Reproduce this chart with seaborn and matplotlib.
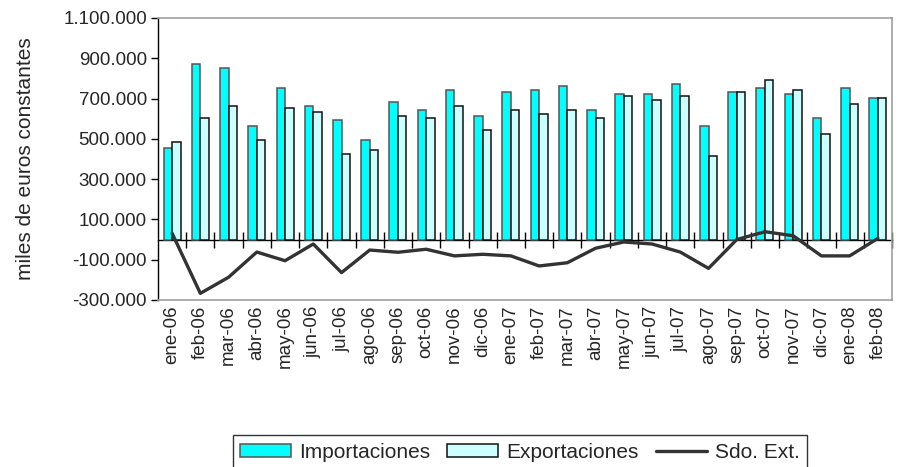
import numpy as np
import pandas as pd
import matplotlib
matplotlib.use("Agg")
import matplotlib.pyplot as plt
from matplotlib.patches import Patch
from matplotlib.lines import Line2D
from matplotlib.ticker import FuncFormatter, FixedLocator
import seaborn as sns

months = ["ene-06", "feb-06", "mar-06", "abr-06", "may-06", "jun-06", "jul-06",
          "ago-06", "sep-06", "oct-06", "nov-06", "dic-06", "ene-07", "feb-07",
          "mar-07", "abr-07", "may-07", "jun-07", "jul-07", "ago-07", "sep-07",
          "oct-07", "nov-07", "dic-07", "ene-08", "feb-08"]
importaciones = [453, 872, 850, 562, 751, 662, 592, 493, 682, 642, 741, 612, 731,
                 741, 761, 642, 721, 721, 771, 562, 731, 751, 721, 602, 751, 702]
exportaciones = [483, 602, 662, 493, 652, 632, 423, 443, 612, 602, 662, 543, 642,
                 622, 642, 602, 711, 692, 711, 413, 731, 791, 741, 523, 672, 702]
saldo = [31, -267, -187, -62, -105, -22, -164, -52, -63, -48, -81, -73, -81,
         -131, -115, -43, -12, -22, -62, -143, 0, 39, 19, -81, -81, 6]
yticks = [-300000, -100000, 100000, 300000, 500000, 700000, 900000, 1100000]
ylabel = "miles de euros constantes"
series_names = ["Importaciones", "Exportaciones", "Sdo. Ext."]

sns.set_style("white")
plt.rcParams["font.family"] = ["Liberation Sans", "DejaVu Sans"]
plt.rcParams["font.size"] = 13.5

df = pd.DataFrame({
    "mes": months * 2,
    "valor": [v * 1000 for v in importaciones] + [v * 1000 for v in exportaciones],
    "serie": [series_names[0]] * len(months) + [series_names[1]] * len(months),
})

fig = plt.figure(figsize=(8.98, 4.67), dpi=100)
ax = fig.add_axes([158 / 898, 1 - 300 / 467, (892 - 158) / 898, (300 - 18) / 467])

colors = {"Importaciones": "#00FFFF", "Exportaciones": "#CCFFFF"}
edges = {"Importaciones": "#555555", "Exportaciones": "#111111"}
sns.barplot(data=df, x="mes", y="valor", hue="serie", order=months,
            hue_order=series_names[:2], palette=colors, width=0.6,
            saturation=1, ax=ax, legend=False)
for cont, name in zip(ax.containers, series_names[:2]):
    for p in cont:
        p.set_edgecolor(edges[name])
        p.set_linewidth(1.1)

sns.lineplot(x=np.arange(len(months)), y=np.array(saldo) * 1000, color="#333333",
             linewidth=2.4, ax=ax, legend=False)

ymin, ymax = yticks[0], yticks[-1]
ax.set_ylim(ymin, ymax)
ax.set_xlim(-0.5, len(months) - 0.5)
ax.set_yticks(yticks)
ax.yaxis.set_major_formatter(FuncFormatter(lambda v, p: f"{int(v):,}".replace(",", ".")))
ax.set_xticks(range(len(months)))
ax.set_xticklabels(months, rotation=90)
ax.tick_params(axis="x", length=0, pad=4, labelsize=13.5)
ax.tick_params(axis="y", length=5, width=1, direction="out", color="black",
               labelsize=13.5, pad=3, left=True)
ax.set_xlabel("")
ax.set_ylabel(ylabel, fontsize=15, labelpad=20)

for s in ["top", "right", "bottom"]:
    ax.spines[s].set_color("#A0A0A0")
    ax.spines[s].set_linewidth(1.2)
ax.spines["left"].set_color("black")
ax.spines["left"].set_linewidth(1.0)

# zero axis with category-boundary ticks
zero_frac = (0 - ymin) / (ymax - ymin)
sec = ax.secondary_xaxis(zero_frac)
sec.spines["bottom"].set_color("black")
sec.spines["bottom"].set_linewidth(1.0)
sec.xaxis.set_major_locator(FixedLocator([i + 0.5 for i in range(len(months))]))
sec.tick_params(axis="x", direction="inout", length=12, width=1, color="black",
                labelbottom=False)

handles = [
    Patch(facecolor=colors["Importaciones"], edgecolor=edges["Importaciones"], linewidth=1.1),
    Patch(facecolor=colors["Exportaciones"], edgecolor=edges["Exportaciones"], linewidth=1.1),
    Line2D([0], [0], color="#333333", linewidth=2.4),
]
leg = fig.legend(handles, series_names, loc="lower center", ncol=3,
                 bbox_to_anchor=(520 / 898, -0.004), frameon=True, fancybox=False,
                 edgecolor="black", fontsize=15, handlelength=2.45, handleheight=0.6,
                 handletextpad=0.4, columnspacing=0.8, borderpad=0.35,
                 borderaxespad=0.0)
leg.get_frame().set_linewidth(1.0)

fig.savefig("out.png", dpi=100)
